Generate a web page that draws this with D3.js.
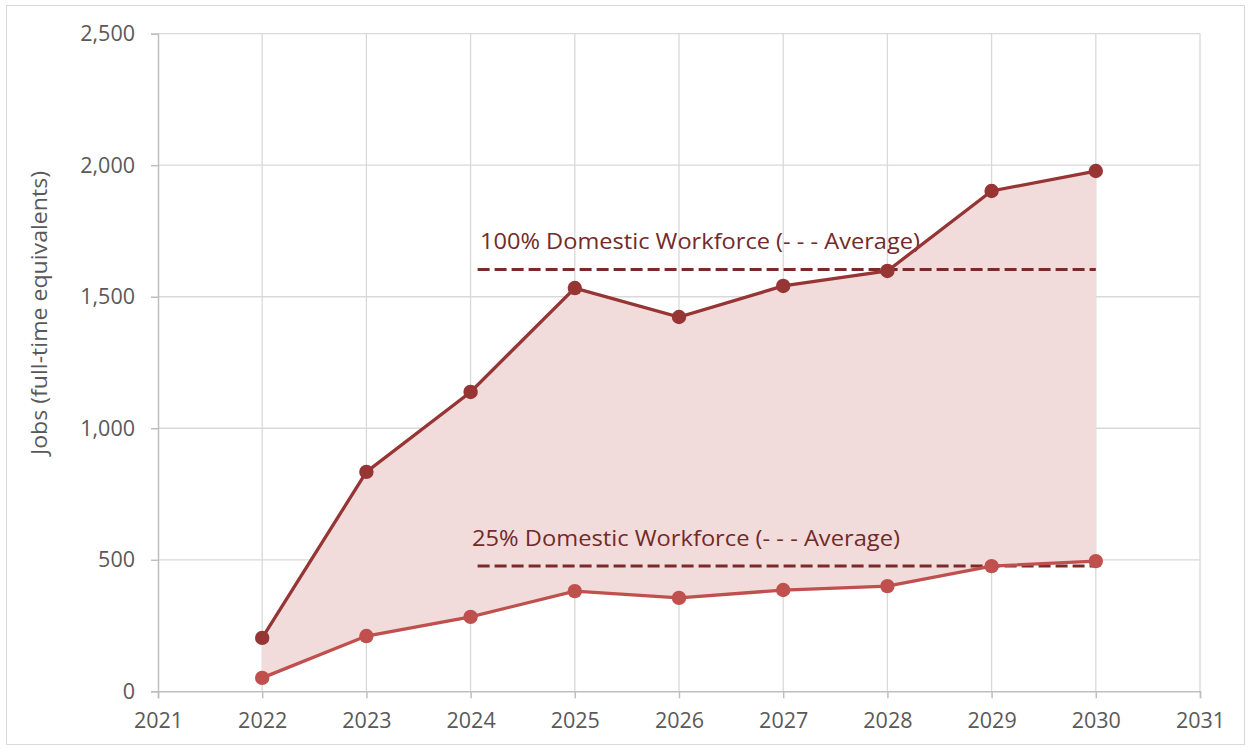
<!DOCTYPE html>
<html><head><meta charset="utf-8">
<script src="https://cdn.jsdelivr.net/npm/d3@7"></script>
<style>body{margin:0;background:#fff}svg{display:block}</style>
</head><body>
<script>
const years = [2022, 2023, 2024, 2025, 2026, 2027, 2028, 2029, 2030];
const domestic100 = [203, 834, 1138, 1533, 1423, 1541, 1598, 1902, 1978];
const domestic25 = [51, 210, 283, 381, 355, 385, 400, 476, 495];
const averageYears = [2024, 2030];
const average100 = 1604;
const average25 = 476;
const xTicks = [2021, 2022, 2023, 2024, 2025, 2026, 2027, 2028, 2029, 2030, 2031];
const yTicks = [0, 500, 1000, 1500, 2000, 2500];
const label100 = "100% Domestic Workforce (- - - Average)";
const label25 = "25% Domestic Workforce (- - - Average)";
const yTitle = "Jobs (full-time equivalents)";

const W = 1250, H = 749;
const svg = d3.select("body").append("svg").attr("width", W).attr("height", H);
svg.append("rect").attr("x", 6.5).attr("y", 5.5).attr("width", 1238).attr("height", 739)
  .attr("fill", "#fff").attr("stroke", "#d9d9d9");

const x = d3.scaleLinear().domain([2021, 2031]).range([158, 1200]);
const y = d3.scaleLinear().domain([0, 2500]).range([691.3, 33.7]);
const font = "'Open Sans', sans-serif";

// grid
svg.append("g").selectAll("line").data(yTicks.filter(d => d > 0)).join("line")
  .attr("x1", x(2021)).attr("x2", x(2031)).attr("y1", d => y(d)).attr("y2", d => y(d))
  .attr("stroke", "#d9d9d9").attr("stroke-width", 1.3);
svg.append("g").selectAll("line").data(xTicks.filter(d => d > 2021)).join("line")
  .attr("x1", d => x(d)).attr("x2", d => x(d)).attr("y1", y(2500)).attr("y2", y(0))
  .attr("stroke", "#d9d9d9").attr("stroke-width", 1.3);

// area
const data = years.map((yr, i) => ({yr, hi: domestic100[i], lo: domestic25[i]}));
svg.append("path").datum(data)
  .attr("d", d3.area().x(d => x(d.yr)).y0(d => y(d.lo)).y1(d => y(d.hi)))
  .attr("fill", "#f2dcdb");

// axes
const xAxis = svg.append("g").attr("transform", `translate(0,${y(0)})`)
  .call(d3.axisBottom(x).tickValues(xTicks).tickFormat(d3.format("d")).tickSize(7).tickPadding(14));
const yAxis = svg.append("g").attr("transform", `translate(${x(2021)},0)`)
  .call(d3.axisLeft(y).tickValues(yTicks).tickFormat(d3.format(",")).tickSize(7).tickPadding(16));
[xAxis, yAxis].forEach(g => {
  g.select(".domain").attr("stroke", "#bfbfbf").attr("stroke-width", 1.5);
  g.selectAll(".tick line").attr("stroke", "#bfbfbf").attr("stroke-width", 1.5);
  g.selectAll(".tick text").attr("fill", "#595959").style("font-family", font).style("font-size", "21.5px");
});

svg.append("text").attr("transform", `translate(47,${313}) rotate(-90)`)
  .attr("text-anchor", "middle").attr("fill", "#595959")
  .style("font-family", font).style("font-size", "21.5px")
  .attr("textLength", 284).attr("lengthAdjust", "spacingAndGlyphs").text(yTitle);

// average dashed lines
[[average100, label100, 480, 440], [average25, label25, 472, 428]].forEach(([v, lab, tx, tl]) => {
  svg.append("line").attr("x1", x(averageYears[0]) + 7).attr("x2", x(averageYears[1]))
    .attr("y1", y(v)).attr("y2", y(v)).attr("stroke", "#7b2a2a").attr("stroke-width", 3)
    .attr("stroke-dasharray", "12,5");
  svg.append("text").attr("x", tx).attr("y", y(v) - 20).attr("fill", "#722a2a")
    .style("font-family", font).style("font-size", "21.5px")
    .attr("textLength", tl).attr("lengthAdjust", "spacingAndGlyphs").text(lab);
});

// lines
const line = d3.line().x(d => x(d[0])).y(d => y(d[1]));
[[domestic25, "#c0504d"], [domestic100, "#973535"]].forEach(([vals, col]) => {
  const pts = years.map((yr, i) => [yr, vals[i]]);
  svg.append("path").datum(pts).attr("d", line).attr("fill", "none")
    .attr("stroke", col).attr("stroke-width", 3.3);
  svg.append("g").selectAll("circle").data(pts).join("circle")
    .attr("cx", d => x(d[0])).attr("cy", d => y(d[1])).attr("r", 7.2).attr("fill", col);
});
</script>
</body></html>
